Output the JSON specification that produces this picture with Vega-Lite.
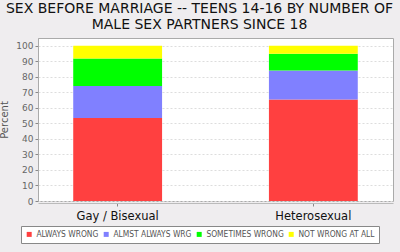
{
  "$schema": "https://vega.github.io/schema/vega-lite/v6.json",
  "width": 355,
  "height": 163,
  "autosize": {"type": "none"},
  "padding": {"left": 38, "top": 38, "right": 7, "bottom": 51},
  "background": "#efedef",
  "title": {
    "text": ["SEX BEFORE MARRIAGE -- TEENS 14-16 BY NUMBER OF", "MALE SEX PARTNERS SINCE 18"],
    "anchor": "middle",
    "frame": "group",
    "font": "DejaVu Sans",
    "fontSize": 14,
    "fontWeight": "normal",
    "color": "#111111",
    "lineHeight": 16,
    "offset": 6,
    "dx": -16
  },
  "data": {
    "values": [
      {"group": "Gay / Bisexual", "response": "ALWAYS WRONG", "ord": 1, "pct": 53.5},
      {"group": "Gay / Bisexual", "response": "ALMST ALWAYS WRG", "ord": 2, "pct": 20.5},
      {"group": "Gay / Bisexual", "response": "SOMETIMES WRONG", "ord": 3, "pct": 17.8},
      {"group": "Gay / Bisexual", "response": "NOT WRONG AT ALL", "ord": 4, "pct": 8.2},
      {"group": "Heterosexual", "response": "ALWAYS WRONG", "ord": 1, "pct": 65.4},
      {"group": "Heterosexual", "response": "ALMST ALWAYS WRG", "ord": 2, "pct": 18.6},
      {"group": "Heterosexual", "response": "SOMETIMES WRONG", "ord": 3, "pct": 10.8},
      {"group": "Heterosexual", "response": "NOT WRONG AT ALL", "ord": 4, "pct": 5.2}
    ]
  },
  "mark": {"type": "bar"},
  "encoding": {
    "x": {
      "field": "group",
      "type": "nominal",
      "sort": null,
      "scale": {"paddingInner": 0.546, "paddingOuter": 0.18},
      "axis": {
        "title": null,
        "labelAngle": 0,
        "labelFont": "DejaVu Sans",
        "labelFontSize": 11.5,
        "labelColor": "#111111",
        "labelPadding": 4,
        "domain": true,
        "domainColor": "#bbbbbb",
        "tickColor": "#888888",
        "tickSize": 3,
        "offset": 2
      }
    },
    "y": {
      "field": "pct",
      "type": "quantitative",
      "stack": "zero",
      "scale": {"domain": [0, 105], "nice": false},
      "axis": {
        "title": "Percent",
        "titleFont": "DejaVu Sans",
        "titleFontSize": 10,
        "titleFontWeight": "normal",
        "titleColor": "#555555",
        "titlePadding": 6,
        "values": [0, 10, 20, 30, 40, 50, 60, 70, 80, 90, 100],
        "labelFont": "DejaVu Sans",
        "labelFontSize": 9,
        "labelColor": "#666666",
        "tickColor": "#888888",
        "tickSize": 3,
        "domainColor": "#aaaaaa",
        "grid": true,
        "gridColor": "#dddddd",
        "gridDash": [2, 2]
      }
    },
    "color": {
      "field": "response",
      "type": "nominal",
      "sort": ["ALWAYS WRONG", "ALMST ALWAYS WRG", "SOMETIMES WRONG", "NOT WRONG AT ALL"],
      "scale": {
        "domain": ["ALWAYS WRONG", "ALMST ALWAYS WRG", "SOMETIMES WRONG", "NOT WRONG AT ALL"],
        "range": ["#ff4040", "#8080ff", "#00ff00", "#ffff00"]
      },
      "legend": {
        "title": null,
        "orient": "none",
        "direction": "horizontal",
        "legendX": -17,
        "legendY": 188,
        "symbolType": "square",
        "symbolSize": 25,
        "symbolStrokeWidth": 0,
        "labelFont": "Liberation Sans Narrow, DejaVu Sans Condensed, Liberation Sans",
        "labelFontSize": 8.4,
        "labelColor": "#555555",
        "labelOffset": 3,
        "columnPadding": 3,
        "symbolOffset": 0,
        "padding": 4,
        "strokeColor": "#888888",
        "fillColor": "#ffffff"
      }
    },
    "order": {"field": "ord", "type": "quantitative"}
  },
  "config": {
    "view": {"stroke": "#aaaaaa", "fill": "#ffffff"}
  }
}
